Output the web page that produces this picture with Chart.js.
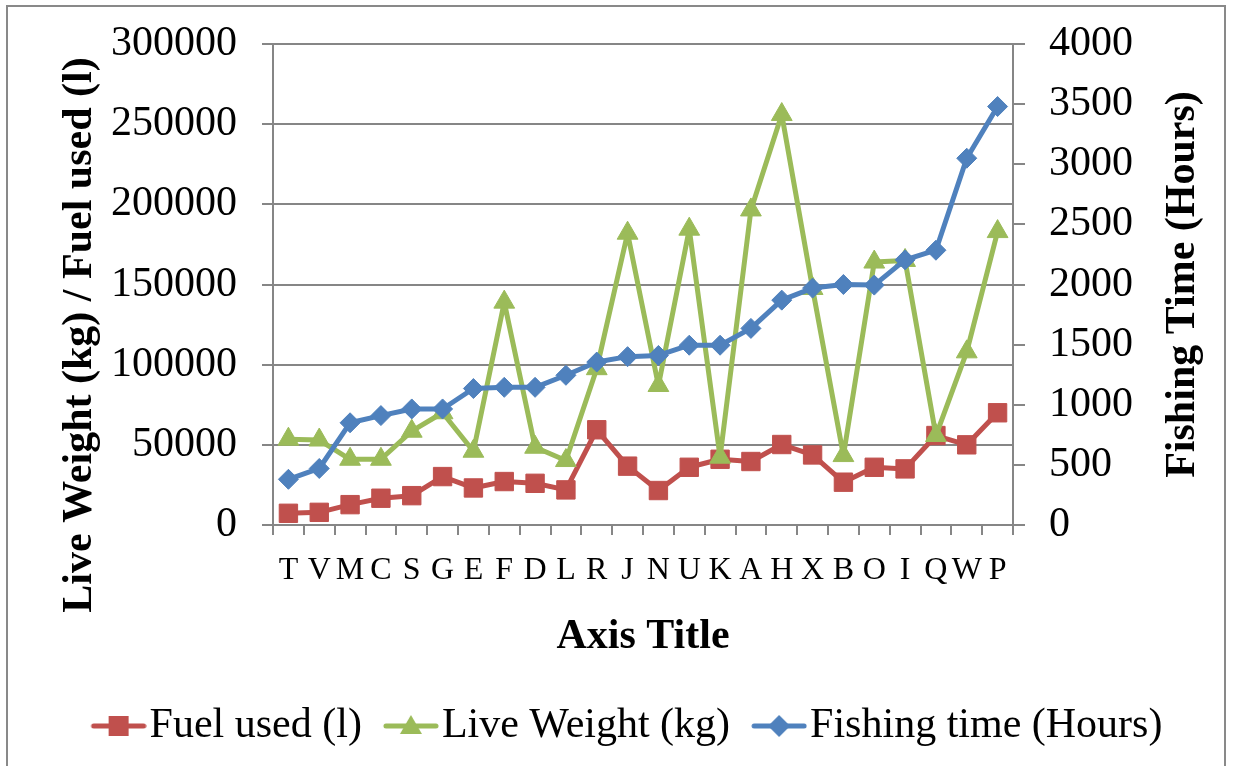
<!DOCTYPE html>
<html>
<head>
<meta charset="utf-8">
<title>Fuel, live weight and fishing time</title>
<script src="https://cdn.jsdelivr.net/npm/chart.js@4.4.1/dist/chart.umd.min.js"></script>
<style>
  html, body { margin: 0; padding: 0; background: #fff; }
  canvas { display: block; }
</style>
</head>
<body>
<canvas id="lineChart" width="1233" height="766"></canvas>
<script>
// värden avlästa ur originalbilden
const categories = ['T', 'V', 'M', 'C', 'S', 'G', 'E', 'F', 'D', 'L', 'R', 'J', 'N', 'U', 'K', 'A', 'H', 'X', 'B', 'O', 'I', 'Q', 'W', 'P'];
const fuelUsed = [7300, 7900, 12700, 16700, 18300, 30200, 23100, 27100, 26000, 21900, 59400, 36700, 21500, 36000, 41000, 39600, 50200, 43700, 26700, 36000, 35000, 55800, 50000, 70000];
const liveWeight = [53500, 53000, 41000, 41000, 58500, 70000, 46000, 139000, 48500, 40200, 97500, 182000, 87000, 184500, 42300, 196500, 256000, 147500, 43300, 164000, 165000, 55800, 108000, 183000];
const fishingTime = [380, 470, 850, 910, 965, 965, 1135, 1145, 1145, 1245, 1355, 1400, 1410, 1495, 1495, 1635, 1870, 1970, 2000, 1995, 2205, 2285, 3050, 3480];
const leftTicks = [0, 300000, 50000];   // min, max, steg
const rightTicks = [0, 4000, 500];

const seriesNames = ['Fuel used (l)', 'Live Weight (kg)', 'Fishing time (Hours)'];
const leftTitle = 'Live Weight (kg) / Fuel used (l)';
const rightTitle = 'Fishing Time (Hours)';
const xTitle = 'Axis Title';

const red = 'rgb(192, 80, 77)';
const green = 'rgb(155, 187, 89)';
const blue = 'rgb(79, 129, 189)';
const gray = 'rgb(134, 134, 134)';
const serif = "'Liberation Serif', 'Times New Roman', serif";

Chart.defaults.font.family = serif;
Chart.defaults.color = '#000';

// liten bild med linje + markör till förklaringen
function legendIcon(color, shape) {
  const c = document.createElement('canvas');
  c.width = 74;
  c.height = 30;
  const g = c.getContext('2d');
  g.strokeStyle = color;
  g.fillStyle = color;
  g.lineWidth = 5;
  g.lineCap = 'round';
  g.beginPath();
  g.moveTo(21, 15);
  g.lineTo(71, 15);
  g.stroke();
  const cx = 46, cy = 15;
  g.beginPath();
  if (shape === 'square') {
    g.rect(cx - 10, cy - 10, 20, 20);
  } else if (shape === 'triangle') {
    g.moveTo(cx, cy - 11);
    g.lineTo(cx + 11, cy + 8);
    g.lineTo(cx - 11, cy + 8);
  } else {
    g.moveTo(cx, cy - 11);
    g.lineTo(cx + 11, cy);
    g.lineTo(cx, cy + 11);
    g.lineTo(cx - 11, cy);
  }
  g.closePath();
  g.fill();
  return c;
}
const legendIcons = [legendIcon(red, 'square'), legendIcon(green, 'triangle'), legendIcon(blue, 'diamond')];

// fast bredd på y-axlarna, och ingen extra luft ovanför/under för etiketterna
function fixedWidth(w) {
  return (scale) => {
    scale.width = w;
    scale.paddingTop = 0;
    scale.paddingBottom = 0;
  };
}

// ram runt hela diagrammet och de lodräta axeltitlarna
const extraDrawing = {
  id: 'extraDrawing',
  beforeDraw(chart) {
    const ctx = chart.ctx;
    ctx.save();
    ctx.fillStyle = '#fff';
    ctx.fillRect(0, 0, chart.width, chart.height);
    ctx.strokeStyle = 'rgb(137, 137, 137)';
    ctx.lineWidth = 2;
    ctx.strokeRect(7, 6, 1218, 800);
    ctx.restore();
  },
  afterDraw(chart) {
    const ctx = chart.ctx;
    const area = chart.chartArea;
    ctx.save();
    ctx.font = 'bold 42px ' + serif;
    ctx.fillStyle = '#000';
    ctx.textAlign = 'center';
    ctx.textBaseline = 'middle';
    ctx.translate(80, 335);
    ctx.rotate(-Math.PI / 2);
    ctx.fillText(leftTitle, 0, 0);
    ctx.restore();

    ctx.save();
    ctx.font = 'bold 42px ' + serif;
    ctx.fillStyle = '#000';
    ctx.textAlign = 'center';
    ctx.textBaseline = 'middle';
    ctx.translate(1183, (area.top + area.bottom) / 2);
    ctx.rotate(-Math.PI / 2);
    ctx.fillText(rightTitle, 0, 0);
    ctx.restore();
  }
};

const ctx = document.getElementById('lineChart').getContext('2d');
const lineChart = new Chart(ctx, {
  type: 'line',
  data: {
    labels: categories,
    datasets: [{
      label: seriesNames[0],
      data: fuelUsed,
      yAxisID: 'y',
      borderColor: red,
      backgroundColor: red,
      borderWidth: 5,
      pointStyle: 'rect',
      pointRadius: 13,
      pointBorderWidth: 1,
      order: 3
    }, {
      label: seriesNames[1],
      data: liveWeight,
      yAxisID: 'y',
      borderColor: green,
      backgroundColor: green,
      borderWidth: 5,
      pointStyle: 'triangle',
      pointRadius: 12,
      pointBorderWidth: 1,
      order: 2
    }, {
      label: seriesNames[2],
      data: fishingTime,
      yAxisID: 'y1',
      borderColor: blue,
      backgroundColor: blue,
      borderWidth: 5,
      pointStyle: 'rectRot',
      pointRadius: 10,
      pointBorderWidth: 1,
      order: 1
    }]
  },
  options: {
    responsive: false,
    animation: false,
    events: [],
    elements: {
      line: { tension: 0, borderJoinStyle: 'round', borderCapStyle: 'round' }
    },
    layout: { padding: { top: 44, bottom: 9, left: 20, right: 0 } },
    scales: {
      x: {
        offset: true,
        afterFit: (scale) => { scale.height = 159; },
        grid: { offset: true, drawOnChartArea: false, tickLength: 10, color: gray, lineWidth: 2 },
        border: { color: gray, width: 2 },
        ticks: { autoSkip: false, maxRotation: 0, padding: 16, font: { size: 32 } },
        title: { display: true, text: xTitle, font: { size: 42, weight: 'bold' }, padding: { top: 0, bottom: 22 } }
      },
      y: {
        position: 'left',
        min: leftTicks[0],
        max: leftTicks[1],
        afterFit: fixedWidth(253),
        grid: { color: gray, lineWidth: 2, tickLength: 11 },
        border: { color: gray, width: 2 },
        ticks: { stepSize: leftTicks[2], padding: 25, font: { size: 42 }, callback: (v) => String(v) }
      },
      y1: {
        position: 'right',
        min: rightTicks[0],
        max: rightTicks[1],
        afterFit: fixedWidth(220),
        grid: { drawOnChartArea: false, color: gray, lineWidth: 2, tickLength: 12 },
        border: { color: gray, width: 2 },
        ticks: { stepSize: rightTicks[2], padding: 24, font: { size: 42 }, callback: (v) => String(v) }
      }
    },
    plugins: {
      tooltip: { enabled: false },
      legend: {
        position: 'bottom',
        labels: {
          usePointStyle: true,
          pointStyleWidth: 38,
          padding: 21,
          font: { size: 42 },
          color: '#000',
          generateLabels: (chart) => chart.data.datasets.map((ds, i) => ({
            text: ds.label,
            pointStyle: legendIcons[i],
            fillStyle: ds.borderColor,
            strokeStyle: ds.borderColor,
            lineWidth: 0,
            hidden: false,
            datasetIndex: i
          }))
        }
      }
    }
  },
  plugins: [extraDrawing]
});
</script>
</body>
</html>
